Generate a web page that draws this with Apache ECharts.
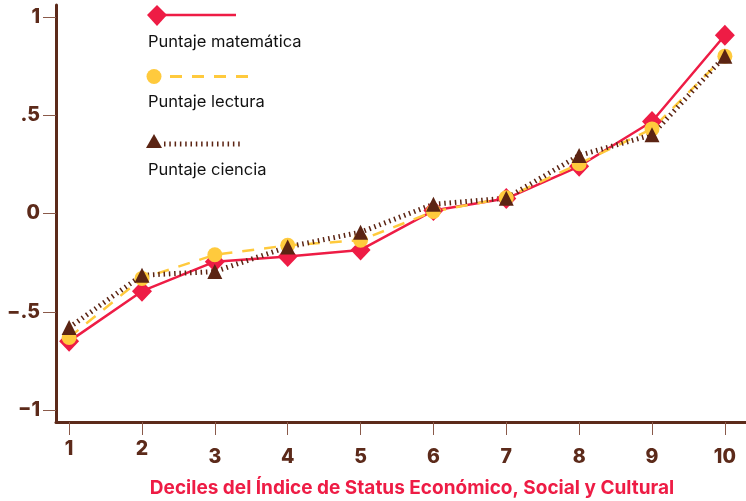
<!DOCTYPE html>
<html>
<head>
<meta charset="utf-8">
<script src="https://cdn.jsdelivr.net/npm/echarts@6/dist/echarts.min.js"></script>
<style>
  html, body { margin: 0; padding: 0; background: #fff; }
  #chart { width: 746px; height: 501px; }
</style>
</head>
<body>
<div id="chart"></div>
<script>
const deciles = [1, 2, 3, 4, 5, 6, 7, 8, 9, 10]
const raisedLabels = [1, 2]
const yTicks = [-1, -0.5, 0, 0.5, 1]
const yTickLabels = ['−1', '−.5', '0', '.5', '1']

const matematica = [-0.65, -0.395, -0.245, -0.219, -0.185, 0.015, 0.076, 0.24, 0.468, 0.906]
const lectura = [-0.63, -0.33, -0.21, -0.162, -0.136, 0.01, 0.08, 0.253, 0.43, 0.8]
const ciencia = [-0.58, -0.314, -0.295, -0.17, -0.095, 0.047, 0.078, 0.295, 0.4, 0.8]

const seriesNames = ['Puntaje matemática', 'Puntaje lectura', 'Puntaje ciencia']

const RED = '#ee1c45'
const YELLOW = '#ffca3d'
const BROWN = '#5b2413'
const AXIS = '#5c2a1a'
const TICK = '#8a5a4a'
const FONT = 'Inter, "Noto Sans", sans-serif'

const chart = echarts.init(document.getElementById('chart'))

const pairs = (vals) => deciles.map((d, i) => [d, vals[i]])

const numStyle = { fontFamily: FONT, fontWeight: 800, fontSize: 19.5, color: AXIS }

// legend drawn as graphic: icon on one line, name underneath
const legendItem = (top, textY, name, icon, line) => ({
  type: 'group',
  x: 144,
  y: top,
  children: [
    line,
    icon,
    {
      type: 'text',
      x: 4, y: textY,
      style: {
        text: name, font: '16.5px Inter, "Noto Sans", sans-serif', fill: '#111',
        verticalAlign: 'middle'
      }
    }
  ]
})

const option = {
  animation: false,
  grid: { left: 56, right: 0, top: 5, bottom: 79, outerBoundsMode: 'none' },
  xAxis: {
    type: 'value',
    min: 0.82,
    max: 10.29,
    name: 'Deciles del Índice de Status Económico, Social y Cultural',
    nameLocation: 'middle',
    nameGap: 57,
    nameTextStyle: {
      fontFamily: FONT, fontWeight: 'bold', fontSize: 19, color: RED,
      padding: [0, 0, 0, 22]
    },
    axisLine: { show: true, onZero: false, lineStyle: { color: AXIS, width: 3 } },
    axisTick: { show: true, length: 13, customValues: deciles, lineStyle: { color: TICK, width: 1 } },
    splitLine: { show: false },
    axisLabel: {
      customValues: deciles,
      margin: 17,
      formatter: (v) => raisedLabels.includes(v) ? `{hi|${v}}` : `{lo|${v}}`,
      rich: {
        hi: { ...numStyle },
        lo: { ...numStyle, padding: [8, 0, 0, 0] }
      }
    }
  },
  yAxis: {
    type: 'value',
    min: -1.06,
    max: 1.06,
    axisLine: { show: true, onZero: false, lineStyle: { color: AXIS, width: 3 } },
    axisTick: { show: true, length: 13, customValues: yTicks, lineStyle: { color: TICK, width: 1 } },
    splitLine: { show: false },
    axisLabel: {
      customValues: yTicks,
      margin: 16,
      ...numStyle,
      formatter: (v) => {
        const i = yTicks.findIndex(t => Math.abs(t - v) < 1e-9)
        return i >= 0 ? yTickLabels[i] : ''
      }
    }
  },
  series: [
    {
      name: seriesNames[0],
      type: 'line',
      data: pairs(matematica),
      symbol: 'diamond',
      symbolSize: [20, 21],
      lineStyle: { color: RED, width: 2.5 },
      itemStyle: { color: RED }
    },
    {
      name: seriesNames[1],
      type: 'line',
      data: pairs(lectura),
      symbol: 'circle',
      symbolSize: 15,
      lineStyle: { color: YELLOW, width: 2.5, type: [12, 10] },
      itemStyle: { color: YELLOW }
    },
    {
      name: seriesNames[2],
      type: 'line',
      data: pairs(ciencia),
      symbol: 'triangle',
      symbolSize: [15, 15],
      lineStyle: { color: BROWN, width: 5, type: [1.5, 3.8] },
      itemStyle: { color: BROWN }
    }
  ],
  graphic: [
    legendItem(5, 37, seriesNames[0],
      { type: 'polygon', shape: { points: [[13, 0], [23, 10], [13, 21], [3, 10]] }, style: { fill: RED } },
      { type: 'line', shape: { x1: 13, y1: 10, x2: 92, y2: 10 }, style: { stroke: RED, lineWidth: 2.5 } }),
    legendItem(69, 33, seriesNames[1],
      { type: 'circle', shape: { cx: 10, cy: 7.5, r: 7.5 }, style: { fill: YELLOW } },
      { type: 'line', shape: { x1: 26, y1: 7.5, x2: 104, y2: 7.5 }, style: { stroke: YELLOW, lineWidth: 3, lineDash: [12, 10] } }),
    legendItem(134, 36, seriesNames[2],
      { type: 'polygon', shape: { points: [[10, 0], [18, 14], [2, 14]] }, style: { fill: BROWN } },
      { type: 'line', shape: { x1: 20, y1: 10, x2: 98, y2: 10 }, style: { stroke: BROWN, lineWidth: 5, lineDash: [1.5, 3.8] } })
  ]
}

chart.setOption(option)
window.addEventListener('resize', () => chart.resize())
</script>
</body>
</html>
